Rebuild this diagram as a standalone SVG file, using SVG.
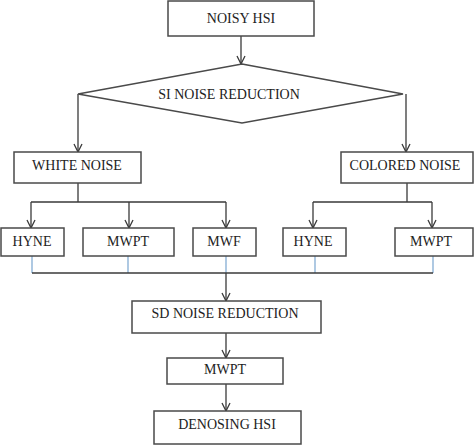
<svg xmlns="http://www.w3.org/2000/svg" width="474" height="445" viewBox="0 0 474 445">
<defs>
<style>
.box{fill:#fff;stroke:#4a4a4a;stroke-width:1.5}
.t{font-family:"Liberation Serif","Times New Roman",serif;font-size:14px;fill:#222;text-anchor:middle}
.c{fill:none;stroke:#3a3a3a;stroke-width:1.3}
.b{fill:none;stroke:#7aa6d0;stroke-width:1.2}
</style>
<marker id="ar" viewBox="0 0 10 10" refX="9" refY="5" markerWidth="10" markerHeight="10" markerUnits="userSpaceOnUse" orient="auto">
<path d="M1,1 L9,5 L1,9" fill="none" stroke="#3a3a3a" stroke-width="1.3"/>
</marker>
</defs>
<rect width="474" height="445" fill="#fff"/>
<g id="connectors">
<path class="c" d="M241,36 V64" marker-end="url(#ar)"/>
<path class="c" d="M78,94 V152" marker-end="url(#ar)"/>
<path class="c" d="M406,94 V152" marker-end="url(#ar)"/>
<path class="c" d="M78,183 V202 M31,202 H226"/>
<path class="c" d="M31,202 V228" marker-end="url(#ar)"/>
<path class="c" d="M129,202 V228" marker-end="url(#ar)"/>
<path class="c" d="M226,202 V228" marker-end="url(#ar)"/>
<path class="c" d="M407,183 V202 M313,202 H432"/>
<path class="c" d="M313,202 V228" marker-end="url(#ar)"/>
<path class="c" d="M432,202 V228" marker-end="url(#ar)"/>
<path class="b" d="M32,256 V273 M128,256 V273 M226,256 V273 M315,256 V273 M433,256 V273"/>
<path class="c" d="M32,273 H433" stroke="#666"/>
<path class="c" d="M226,273 V301" marker-end="url(#ar)"/>
<path class="c" d="M226,333 V358" marker-end="url(#ar)"/>
<path class="c" d="M226,384 V411" marker-end="url(#ar)"/>
</g>
<g id="noisy-hsi"><rect class="box" x="168" y="1" width="146" height="35"/><text class="t" x="241" y="23">NOISY HSI</text></g>
<g id="si-noise-reduction"><polygon class="box" points="242,64 403,94 242,123 78,94"/><text class="t" x="229" y="99">SI NOISE REDUCTION</text></g>
<g id="white-noise"><rect class="box" x="14" y="152" width="127" height="31"/><text class="t" x="77" y="170">WHITE NOISE</text></g>
<g id="colored-noise"><rect class="box" x="341" y="152" width="132" height="31"/><text class="t" x="405" y="170">COLORED NOISE</text></g>
<g id="hyne-1"><rect class="box" x="1" y="228" width="63" height="28"/><text class="t" x="32" y="246">HYNE</text></g>
<g id="mwpt-1"><rect class="box" x="83" y="228" width="91" height="28"/><text class="t" x="128" y="246">MWPT</text></g>
<g id="mwf"><rect class="box" x="193" y="228" width="63" height="28"/><text class="t" x="224" y="246">MWF</text></g>
<g id="hyne-2"><rect class="box" x="283" y="228" width="63" height="28"/><text class="t" x="313" y="246">HYNE</text></g>
<g id="mwpt-2"><rect class="box" x="395" y="228" width="78" height="28"/><text class="t" x="431" y="246">MWPT</text></g>
<g id="sd-noise-reduction"><rect class="box" x="132" y="301" width="189" height="32"/><text class="t" x="225" y="318">SD NOISE REDUCTION</text></g>
<g id="mwpt-3"><rect class="box" x="167" y="358" width="116" height="26"/><text class="t" x="225" y="374">MWPT</text></g>
<g id="denosing-hsi"><rect class="box" x="154" y="411" width="147" height="33"/><text class="t" x="227" y="429">DENOSING HSI</text></g>
</svg>
